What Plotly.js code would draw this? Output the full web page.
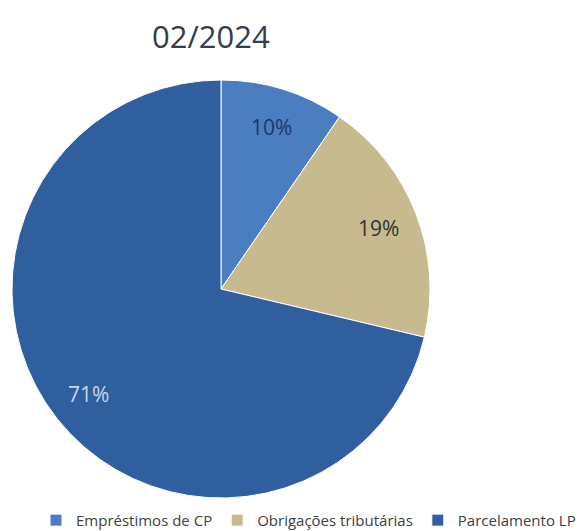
<!DOCTYPE html>
<html><head><meta charset="utf-8">
<script src="https://cdn.plot.ly/plotly-3.0.1.min.js"></script>
<style>html,body{margin:0;padding:0;background:#fff;}#chart{width:581px;height:531px;}</style>
</head><body><div id="chart"></div>
<script>
const labels = ["Empréstimos de CP", "Obrigações tributárias", "Parcelamento LP"];
const values = [9.6, 19.1, 71.3];
const colors = ["#4A7EC0", "#C6BA8E", "#2F5F9E"];
const textColors = ["#1F3864", "#333333", "#C9D6EA"];
const titleText = "02/2024";

const W = 581, H = 531;
const cxPx = 221, cyPx = 289, R = 209;
const domX = [(cxPx - R) / W, (cxPx + R) / W];
const domY = [1 - (cyPx + R) / H, 1 - (cyPx - R) / H];

// percentage labels placed at slice mid-angle, ~0.81 of radius (as in the reference)
const total = values.reduce((a, b) => a + b, 0);
let cum = 0;
const annotations = values.map((v, i) => {
  const mid = (cum + v / 2) / total * 2 * Math.PI;
  cum += v;
  const r = 0.81 * R;
  return {
    xref: "paper", yref: "paper",
    x: (cxPx + r * Math.sin(mid)) / W,
    y: 1 - (cyPx - r * Math.cos(mid)) / H,
    text: Math.round(v / total * 100) + "%",
    showarrow: false, xanchor: "center", yanchor: "middle",
    font: {family: "Open Sans", size: 21, color: textColors[i]}
  };
});

const data = [{
  type: "pie",
  labels: labels,
  values: values,
  sort: false,
  direction: "clockwise",
  rotation: 0,
  textinfo: "none",
  marker: {colors: colors, line: {color: "#ffffff", width: 1}},
  domain: {x: domX, y: domY},
  hoverinfo: "none"
}];

const layout = {
  width: W, height: H,
  margin: {l: 0, r: 0, t: 0, b: 0, autoexpand: false},
  paper_bgcolor: "#ffffff",
  title: {text: titleText, x: 0.363, xanchor: "center", y: 0.93, yanchor: "middle",
          font: {family: "Open Sans", size: 31, color: "#363C4A"}},
  annotations: annotations,
  showlegend: true,
  legend: {orientation: "h", x: 1, xanchor: "right", y: 0.02, yanchor: "middle",
           itemwidth: 30,
           font: {family: "Open Sans", size: 15, color: "#404040"}, traceorder: "normal"}
};
Plotly.newPlot("chart", data, layout, {staticPlot: true});
</script></body></html>
